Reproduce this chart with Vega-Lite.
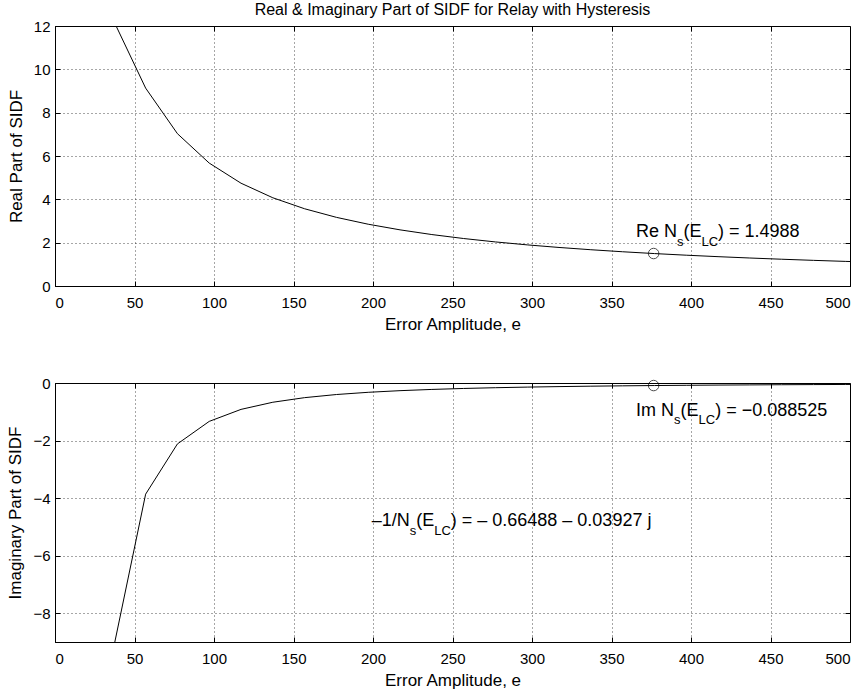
{
  "$schema": "https://vega.github.io/schema/vega-lite/v6.json",
  "background": "white",
  "padding": {"left": 6, "top": 1, "right": 10, "bottom": 2},
  "spacing": 42,
  "config": {
    "font": "Liberation Sans",
    "view": {"stroke": "black", "strokeWidth": 1},
    "axis": {
      "domainColor": "black",
      "tickColor": "black",
      "tickSize": -5,
      "labelColor": "black",
      "labelFont": "Liberation Sans",
      "labelFontSize": 15,
      "titleFont": "Liberation Sans",
      "titleFontSize": 17,
      "titleFontWeight": "normal",
      "titleColor": "black",
      "gridColor": "black",
      "gridDash": [1, 3],
      "gridOpacity": 0.7,
      "gridWidth": 1
    },
    "axisX": {"labelPadding": 14, "titlePadding": 6},
    "axisY": {"labelPadding": 10, "titlePadding": 8},
    "text": {"font": "Liberation Sans", "color": "black"}
  },
  "datasets": {
    "sidf": [
      {"e": 37, "re": 12.223, "im": -9.167},
      {"e": 57, "re": 9.134, "im": -3.8626},
      {"e": 77, "re": 7.030, "im": -2.1167},
      {"e": 97, "re": 5.673, "im": -1.3338},
      {"e": 117, "re": 4.744, "im": -0.9167},
      {"e": 137, "re": 4.072, "im": -0.6686},
      {"e": 157, "re": 3.5644, "im": -0.5091},
      {"e": 177, "re": 3.1686, "im": -0.4006},
      {"e": 197, "re": 2.8512, "im": -0.3234},
      {"e": 217, "re": 2.5914, "im": -0.2665},
      {"e": 237, "re": 2.3747, "im": -0.2234},
      {"e": 257, "re": 2.1914, "im": -0.1900},
      {"e": 277, "re": 2.0342, "im": -0.16356},
      {"e": 297, "re": 1.8981, "im": -0.14228},
      {"e": 317, "re": 1.7789, "im": -0.12489},
      {"e": 337, "re": 1.6738, "im": -0.11051},
      {"e": 357, "re": 1.5804, "im": -0.09846},
      {"e": 377, "re": 1.4969, "im": -0.08830},
      {"e": 397, "re": 1.4217, "im": -0.07963},
      {"e": 417, "re": 1.3537, "im": -0.07217},
      {"e": 437, "re": 1.2919, "im": -0.06572},
      {"e": 457, "re": 1.2355, "im": -0.06009},
      {"e": 477, "re": 1.1838, "im": -0.05516},
      {"e": 497, "re": 1.1363, "im": -0.05081},
      {"e": 500, "re": 1.1295, "im": -0.0502}
    ],
    "lc": [{"e": 376.5, "re": 1.4988, "im": -0.088525}],
    "reMain": [
      {"x": 365.4, "y": 2.248, "t": "Re N"},
      {"x": 395.3, "y": 2.248, "t": "(E"},
      {"x": 417.0, "y": 2.248, "t": ") = 1.4988"}
    ],
    "reSub": [
      {"x": 391.2, "y": 1.846, "t": "s"},
      {"x": 406.6, "y": 1.846, "t": "LC"}
    ],
    "imMain": [
      {"x": 365.4, "y": -1.136, "t": "Im N"},
      {"x": 393.4, "y": -1.136, "t": "(E"},
      {"x": 415.2, "y": -1.136, "t": ") = −0.088525"},
      {"x": 199.2, "y": -4.958, "t": "–1/N"},
      {"x": 227.2, "y": -4.958, "t": "(E"},
      {"x": 248.9, "y": -4.958, "t": ") = – 0.66488 – 0.03927 j"}
    ],
    "imSub": [
      {"x": 389.3, "y": -1.425, "t": "s"},
      {"x": 404.7, "y": -1.425, "t": "LC"},
      {"x": 223.1, "y": -5.28, "t": "s"},
      {"x": 238.5, "y": -5.28, "t": "LC"}
    ]
  },
  "vconcat": [
    {
      "width": 795,
      "height": 260,
      "title": {"text": "Real & Imaginary Part of SIDF for Relay with Hysteresis", "fontSize": 16, "fontWeight": "normal", "font": "Liberation Sans", "color": "black", "offset": 1, "anchor": "middle", "frame": "group"},
      "resolve": {"axis": {"x": "independent", "y": "independent"}},
      "layer": [
        {
          "data": {"name": "sidf"},
          "mark": {"type": "line", "color": "black", "strokeWidth": 1, "clip": true},
          "encoding": {
            "x": {"field": "e", "type": "quantitative", "scale": {"domain": [0, 500], "nice": false},
                  "axis": {"values": [0, 50, 100, 150, 200, 250, 300, 350, 400, 450, 500], "title": "Error Amplitude, e"}},
            "y": {"field": "re", "type": "quantitative", "scale": {"domain": [0, 12], "nice": false},
                  "axis": {"values": [0, 2, 4, 6, 8, 10, 12], "title": "Real Part of SIDF"}}
          }
        },
        {
          "data": {"name": "lc"},
          "mark": {"type": "point", "shape": "circle", "size": 110, "color": "black", "filled": false, "strokeWidth": 1},
          "encoding": {
            "x": {"field": "e", "type": "quantitative", "axis": {"orient": "top", "values": [50, 100, 150, 200, 250, 300, 350, 400, 450], "labels": false, "grid": false, "domain": false, "title": null}},
            "y": {"field": "re", "type": "quantitative", "axis": {"orient": "right", "values": [2, 4, 6, 8, 10], "labels": false, "grid": false, "domain": false, "title": null}}
          }
        },
        {
          "data": {"name": "reMain"},
          "mark": {"type": "text", "align": "left", "baseline": "alphabetic", "fontSize": 18},
          "encoding": {
            "x": {"field": "x", "type": "quantitative", "axis": null},
            "y": {"field": "y", "type": "quantitative", "axis": null},
            "text": {"field": "t"}
          }
        },
        {
          "data": {"name": "reSub"},
          "mark": {"type": "text", "align": "left", "baseline": "alphabetic", "fontSize": 13},
          "encoding": {
            "x": {"field": "x", "type": "quantitative", "axis": null},
            "y": {"field": "y", "type": "quantitative", "axis": null},
            "text": {"field": "t"}
          }
        }
      ]
    },
    {
      "width": 795,
      "height": 259,
      "resolve": {"axis": {"x": "independent", "y": "independent"}},
      "layer": [
        {
          "data": {"name": "sidf"},
          "mark": {"type": "line", "color": "black", "strokeWidth": 1, "clip": true},
          "encoding": {
            "x": {"field": "e", "type": "quantitative", "scale": {"domain": [0, 500], "nice": false},
                  "axis": {"values": [0, 50, 100, 150, 200, 250, 300, 350, 400, 450, 500], "title": "Error Amplitude, e"}},
            "y": {"field": "im", "type": "quantitative", "scale": {"domain": [-9, 0], "nice": false},
                  "axis": {"values": [-8, -6, -4, -2, 0], "title": "Imaginary Part of SIDF"}}
          }
        },
        {
          "data": {"name": "lc"},
          "mark": {"type": "point", "shape": "circle", "size": 110, "color": "black", "filled": false, "strokeWidth": 1},
          "encoding": {
            "x": {"field": "e", "type": "quantitative", "axis": {"orient": "top", "values": [50, 100, 150, 200, 250, 300, 350, 400, 450], "labels": false, "grid": false, "domain": false, "title": null}},
            "y": {"field": "im", "type": "quantitative", "axis": {"orient": "right", "values": [-8, -6, -4, -2], "labels": false, "grid": false, "domain": false, "title": null}}
          }
        },
        {
          "data": {"name": "imMain"},
          "mark": {"type": "text", "align": "left", "baseline": "alphabetic", "fontSize": 18},
          "encoding": {
            "x": {"field": "x", "type": "quantitative", "axis": null},
            "y": {"field": "y", "type": "quantitative", "axis": null},
            "text": {"field": "t"}
          }
        },
        {
          "data": {"name": "imSub"},
          "mark": {"type": "text", "align": "left", "baseline": "alphabetic", "fontSize": 13},
          "encoding": {
            "x": {"field": "x", "type": "quantitative", "axis": null},
            "y": {"field": "y", "type": "quantitative", "axis": null},
            "text": {"field": "t"}
          }
        }
      ]
    }
  ]
}
